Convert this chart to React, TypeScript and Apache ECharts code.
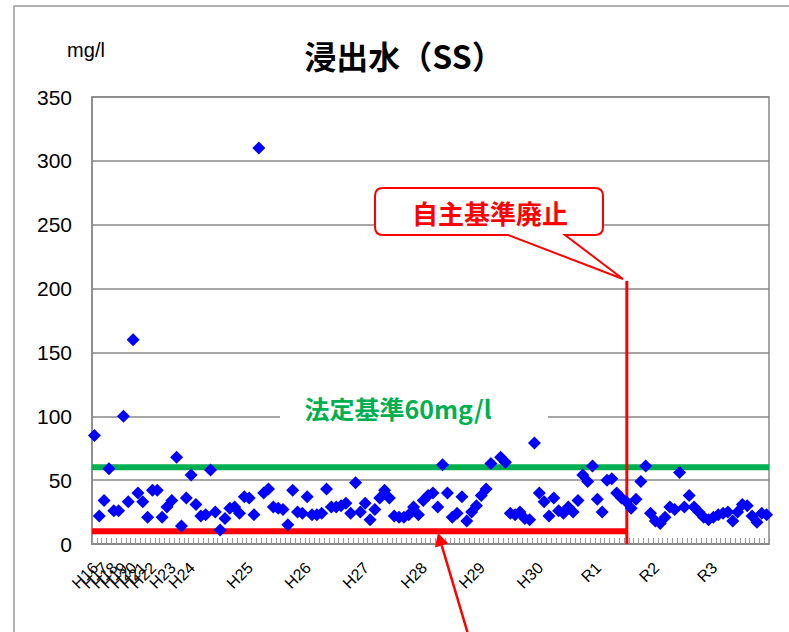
import React, { useEffect, useRef } from 'react';
import * as echarts from 'echarts';

// Fiscal-year tick labels: [category index, text]
const yearLabelIndex = [0, 2, 4, 6, 8, 10, 12, 16, 20, 32, 44, 56, 68, 80, 92, 104, 116, 128];
const yearLabelText = ['H16', 'H17', 'H18', 'H19', 'H20', 'H21', 'H22', 'H23', 'H24', 'H25', 'H26', 'H27', 'H28', 'H29', 'H30', 'R1', 'R2', 'R3'];

// SS values (mg/l), one per sampling
const ssValues: (number | null)[] = [
  85, 22, 34, 59, 26, 26, 100, 33, 160, 40,
  33, 21, 42, 42, 21, 29, 34, 68, 14, 36,
  54, 31, 22, 23, 58, 25, 11, 20, 28, 29,
  24, 37, 36, 23, 310, 40, 43, 29, 28, 27,
  15, 42, 25, 24, 37, 23, 23, 24, 43, 29,
  29, 30, 32, 24, 48, 25, 32, 19, 27, 36,
  42, 36, 22, 21, 21, 23, 29, 23, 34, 38,
  40, 29, 62, 40, 21, 24, 37, 18, 25, 30,
  38, 43, 63, null, 68, 64, 24, 23, 25, 20,
  19, 79, 40, 33, 22, 36, 26, 24, 29, 25,
  34, 54, 49, 61, 35, 25, 50, 51, 40, 36,
  33, 28, 35, 49, 61, 24, 18, 16, 21, 29,
  27, 56, 29, 38, 29, 25, 21, 19, 21, 23,
  24, 25, 18, 25, 31, 30, 22, 17, 24, 23,
];

const yMin = 0;
const yMax = 350;
const yInterval = 50;

const legalStandard = 60; // 法定基準
const voluntaryStandard = 10; // 自主基準
const abolishPosition = 110.6; // position (in categories) where 自主基準 was abolished
const abolishLineTop = 206;

const categories = ssValues.map((_, i) => {
  const k = yearLabelIndex.indexOf(i);
  return k >= 0 ? yearLabelText[k] : '';
});

const LATIN = "'Liberation Sans', 'Noto Sans CJK JP', sans-serif";
const CJK = "'Noto Sans CJK JP', sans-serif";

const calloutPath =
  'M383,188 H595 Q603,188 603,196 V227 Q603,235 595,235 H565 L623,279 L508,235 H383 Q375,235 375,227 V196 Q375,188 383,188 Z';

let registered = false;
function registerShapes() {
  if (registered) return;
  registered = true;
  echarts.graphic.registerShape('callout', echarts.graphic.extendPath(calloutPath, {}) as any);
}

export default function App() {
  const ref = useRef<HTMLDivElement>(null);

  useEffect(() => {
    document.body.style.margin = '0';
    registerShapes();
    const chart = echarts.init(ref.current!, undefined, { renderer: 'svg' });

    chart.setOption({
      animation: false,
      backgroundColor: '#ffffff',
      grid: {
        left: 92,
        top: 97,
        width: 677,
        height: 447,
        show: true,
        borderColor: '#888888',
        borderWidth: 1.5,
        backgroundColor: 'transparent',
        outerBoundsMode: 'none',
      },
      xAxis: [
        {
          type: 'category',
          data: categories,
          boundaryGap: true,
          axisLine: { show: true, lineStyle: { color: '#888888', width: 2 } },
          axisTick: {
            show: true,
            interval: 0,
            inside: true,
            length: 6,
            lineStyle: { color: '#999999', width: 1 },
          },
          axisLabel: { show: false },
          splitLine: { show: false },
        },
        {
          type: 'value',
          min: 0,
          max: ssValues.length,
          show: false,
        },
      ],
      yAxis: {
        type: 'value',
        min: yMin,
        max: yMax,
        interval: yInterval,
        axisLine: { show: true, lineStyle: { color: '#888888', width: 1.5 } },
        axisTick: { show: false },
        axisLabel: {
          margin: 20,
          fontSize: 21,
          fontFamily: LATIN,
          color: '#000000',
        },
        splitLine: { show: true, lineStyle: { color: '#888888', width: 1.5 } },
      },
      series: [
        {
          type: 'line',
          xAxisIndex: 1,
          data: [
            [0, legalStandard],
            [ssValues.length, legalStandard],
          ],
          symbol: 'none',
          silent: true,
          lineStyle: { color: '#00B050', width: 6 },
          z: 3,
        },
        {
          type: 'line',
          xAxisIndex: 1,
          data: [
            [0, voluntaryStandard],
            [abolishPosition, voluntaryStandard],
          ],
          symbol: 'none',
          silent: true,
          lineStyle: { color: '#FF0000', width: 6 },
          z: 3,
        },
        {
          type: 'line',
          xAxisIndex: 1,
          data: [
            [abolishPosition, yMin],
            [abolishPosition, abolishLineTop],
          ],
          symbol: 'none',
          silent: true,
          lineStyle: { color: '#FF0000', width: 3 },
          z: 3,
        },
        {
          type: 'scatter',
          data: ssValues,
          symbol: 'diamond',
          symbolSize: 13,
          itemStyle: { color: '#0000FF', opacity: 1 },
          z: 5,
        },
      ],
    });

    // x-axis year labels, rotated 45°, placed at category centres from the axis scale
    const axisY = chart.convertToPixel({ yAxisIndex: 0 }, yMin) as number;
    const labelEls = yearLabelIndex.map((idx, k) => {
      const x = chart.convertToPixel({ xAxisIndex: 0 }, idx) as number;
      return {
        type: 'text',
        id: 'xl' + k,
        z: 50,
        x: x + 1,
        y: axisY + 21,
        rotation: Math.PI / 4,
        style: {
          text: yearLabelText[k],
          x: 0,
          y: 0,
          fill: '#000000',
          font: `16px ${LATIN}`,
          align: 'right',
          verticalAlign: 'middle',
          textAlign: 'right',
          textVerticalAlign: 'middle',
        },
      };
    });

    // arrow geometry
    const tip = [438, 533];
    const tail = [468, 634];
    const dx = tail[0] - tip[0];
    const dy = tail[1] - tip[1];
    const len = Math.sqrt(dx * dx + dy * dy);
    const ux = dx / len;
    const uy = dy / len;
    const headLen = 13;
    const headHalf = 7;
    const bx = tip[0] + ux * headLen;
    const by = tip[1] + uy * headLen;
    const px = -uy * headHalf;
    const py = ux * headHalf;

    chart.setOption({
      graphic: [
        {
          type: 'rect',
          id: 'frame',
          z: 100,
          shape: { x: 14, y: 6, width: 820, height: 720 },
          style: { fill: 'none', stroke: '#999999', lineWidth: 1.5 },
        },
        {
          type: 'text',
          id: 'title',
          z: 100,
          style: {
            text: '浸出水（SS）',
            x: 404,
            y: 55,
            fill: '#000000',
            font: `bold 32px ${CJK}`,
            align: 'center',
            verticalAlign: 'middle',
            textAlign: 'center',
            textVerticalAlign: 'middle',
          },
        },
        {
          type: 'text',
          id: 'unit',
          z: 100,
          style: {
            text: 'mg/l',
            x: 86,
            y: 50,
            fill: '#000000',
            font: `20px ${LATIN}`,
            align: 'center',
            verticalAlign: 'middle',
            textAlign: 'center',
            textVerticalAlign: 'middle',
          },
        },
        {
          type: 'rect',
          id: 'legalBg',
          z: 100,
          shape: { x: 280, y: 396, width: 268, height: 24 },
          style: { fill: '#ffffff' },
        },
        {
          type: 'text',
          id: 'legalText',
          z: 101,
          style: {
            text: '法定基準60mg/l',
            x: 398,
            y: 408,
            fill: '#00B050',
            font: `bold 25px ${CJK}`,
            align: 'center',
            verticalAlign: 'middle',
            textAlign: 'center',
            textVerticalAlign: 'middle',
          },
        },
        {
          type: 'callout',
          id: 'callout',
          z: 100,
          x: 0,
          y: 0,
          style: { fill: '#ffffff', stroke: '#FF0000', lineWidth: 2 },
        },
        {
          type: 'text',
          id: 'calloutText',
          z: 101,
          style: {
            text: '自主基準廃止',
            x: 490,
            y: 212,
            fill: '#FF0000',
            font: `bold 26px ${CJK}`,
            align: 'center',
            verticalAlign: 'middle',
            textAlign: 'center',
            textVerticalAlign: 'middle',
          },
        },
        {
          type: 'line',
          id: 'arrowLine',
          z: 100,
          shape: { x1: bx, y1: by, x2: tail[0], y2: tail[1] },
          style: { stroke: '#FF0000', lineWidth: 2.5 },
        },
        {
          type: 'polygon',
          id: 'arrowHead',
          z: 100,
          shape: {
            points: [
              [tip[0], tip[1]],
              [bx + px, by + py],
              [bx - px, by - py],
            ],
          },
          style: { fill: '#FF0000' },
        },
        ...labelEls,
      ],
    });

    return () => {
      chart.dispose();
    };
  }, []);

  return <div ref={ref} style={{ width: 789, height: 632 }} />;
}
